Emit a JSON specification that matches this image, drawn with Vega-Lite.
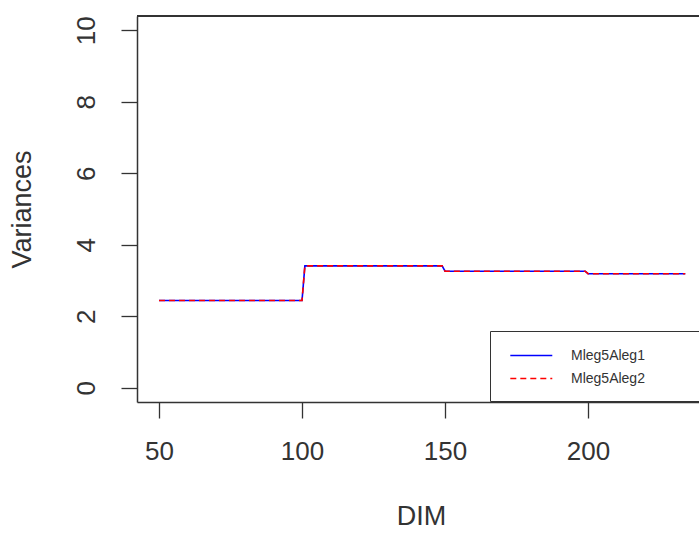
{
  "$schema": "https://vega.github.io/schema/vega-lite/v6.json",
  "autosize": {"type": "none"},
  "padding": {"left": 137, "top": 16, "right": 0, "bottom": 132},
  "width": 562,
  "height": 386,
  "background": "white",
  "config": {
    "view": {"stroke": null},
    "font": "Liberation Sans",
    "axis": {"grid": false, "labelFont": "Liberation Sans", "titleFont": "Liberation Sans", "labelColor": "#333", "titleColor": "#333", "domainColor": "#333", "tickColor": "#333", "titleFontWeight": "normal"},
    "legend": {"title": null, "orient": "none", "legendX": 353, "legendY": 315, "direction": "vertical",
      "strokeColor": "#333", "fillColor": "white", "padding": 15, "rowPadding": 6,
      "symbolType": "M-0.5,0H4.5", "symbolSize": 282, "symbolStrokeWidth": 1.6,
      "labelFont": "Liberation Sans", "labelFontSize": 14, "labelColor": "#333", "labelOffset": 47, "labelLimit": 2000}
  },
  "data": {"values": [
    {"DIM": 50, "Variances": 2.44, "series": "Mleg5Aleg1"},
    {"DIM": 100, "Variances": 2.44, "series": "Mleg5Aleg1"},
    {"DIM": 101, "Variances": 3.41, "series": "Mleg5Aleg1"},
    {"DIM": 149, "Variances": 3.41, "series": "Mleg5Aleg1"},
    {"DIM": 150, "Variances": 3.26, "series": "Mleg5Aleg1"},
    {"DIM": 199, "Variances": 3.26, "series": "Mleg5Aleg1"},
    {"DIM": 200, "Variances": 3.19, "series": "Mleg5Aleg1"},
    {"DIM": 234, "Variances": 3.19, "series": "Mleg5Aleg1"},
    {"DIM": 50, "Variances": 2.44, "series": "Mleg5Aleg2"},
    {"DIM": 100, "Variances": 2.44, "series": "Mleg5Aleg2"},
    {"DIM": 101, "Variances": 3.41, "series": "Mleg5Aleg2"},
    {"DIM": 149, "Variances": 3.41, "series": "Mleg5Aleg2"},
    {"DIM": 150, "Variances": 3.26, "series": "Mleg5Aleg2"},
    {"DIM": 199, "Variances": 3.26, "series": "Mleg5Aleg2"},
    {"DIM": 200, "Variances": 3.19, "series": "Mleg5Aleg2"},
    {"DIM": 234, "Variances": 3.19, "series": "Mleg5Aleg2"}
  ]},
  "layer": [
    {
      "mark": {"type": "line", "strokeWidth": 1.6},
      "encoding": {
        "x": {"field": "DIM", "type": "quantitative",
          "scale": {"domain": [42.3, 238.8], "nice": false, "zero": false},
          "axis": {"values": [50, 100, 150, 200], "tickSize": 16, "labelFontSize": 26, "labelPadding": 20, "labelFlush": false, "titleFontSize": 27, "title": "DIM", "titleX": 284, "titleY": 114, "titleBaseline": "middle", "titleAlign": "center", "domainWidth": 1.5, "tickWidth": 1.3}},
        "y": {"field": "Variances", "type": "quantitative",
          "scale": {"domain": [-0.4, 10.4], "nice": false, "zero": false},
          "axis": {"values": [0, 2, 4, 6, 8, 10], "tickSize": 16, "labelFontSize": 26, "labelAngle": 270, "labelAlign": "center", "labelBaseline": "bottom", "labelPadding": 22, "labelFlush": false, "titleFontSize": 27, "title": "Variances", "titleAngle": 270, "titleX": -115, "titleY": 193, "titleBaseline": "middle", "titleAlign": "center", "domainWidth": 1.5, "tickWidth": 1.3}},
        "color": {"field": "series", "type": "nominal",
          "scale": {"domain": ["Mleg5Aleg1", "Mleg5Aleg2"], "range": ["#0000ff", "#ff0000"]},
          "legend": {"labelExpr": "datum.label + '\u00a0\u00a0\u00a0\u00a0\u00a0\u00a0\u00a0\u00a0\u00a0\u00a0\u00a0\u200b'"}},
        "strokeDash": {"field": "series", "type": "nominal",
          "scale": {"domain": ["Mleg5Aleg1", "Mleg5Aleg2"], "range": [[1, 0], [6, 4]]},
          "legend": {"labelExpr": "datum.label + '\u00a0\u00a0\u00a0\u00a0\u00a0\u00a0\u00a0\u00a0\u00a0\u00a0\u00a0\u200b'"}}
      }
    },
    {
      "mark": {"type": "rule", "color": "#333", "strokeWidth": 1.5},
      "encoding": {"y": {"datum": 10.4}}
    }
  ]
}
